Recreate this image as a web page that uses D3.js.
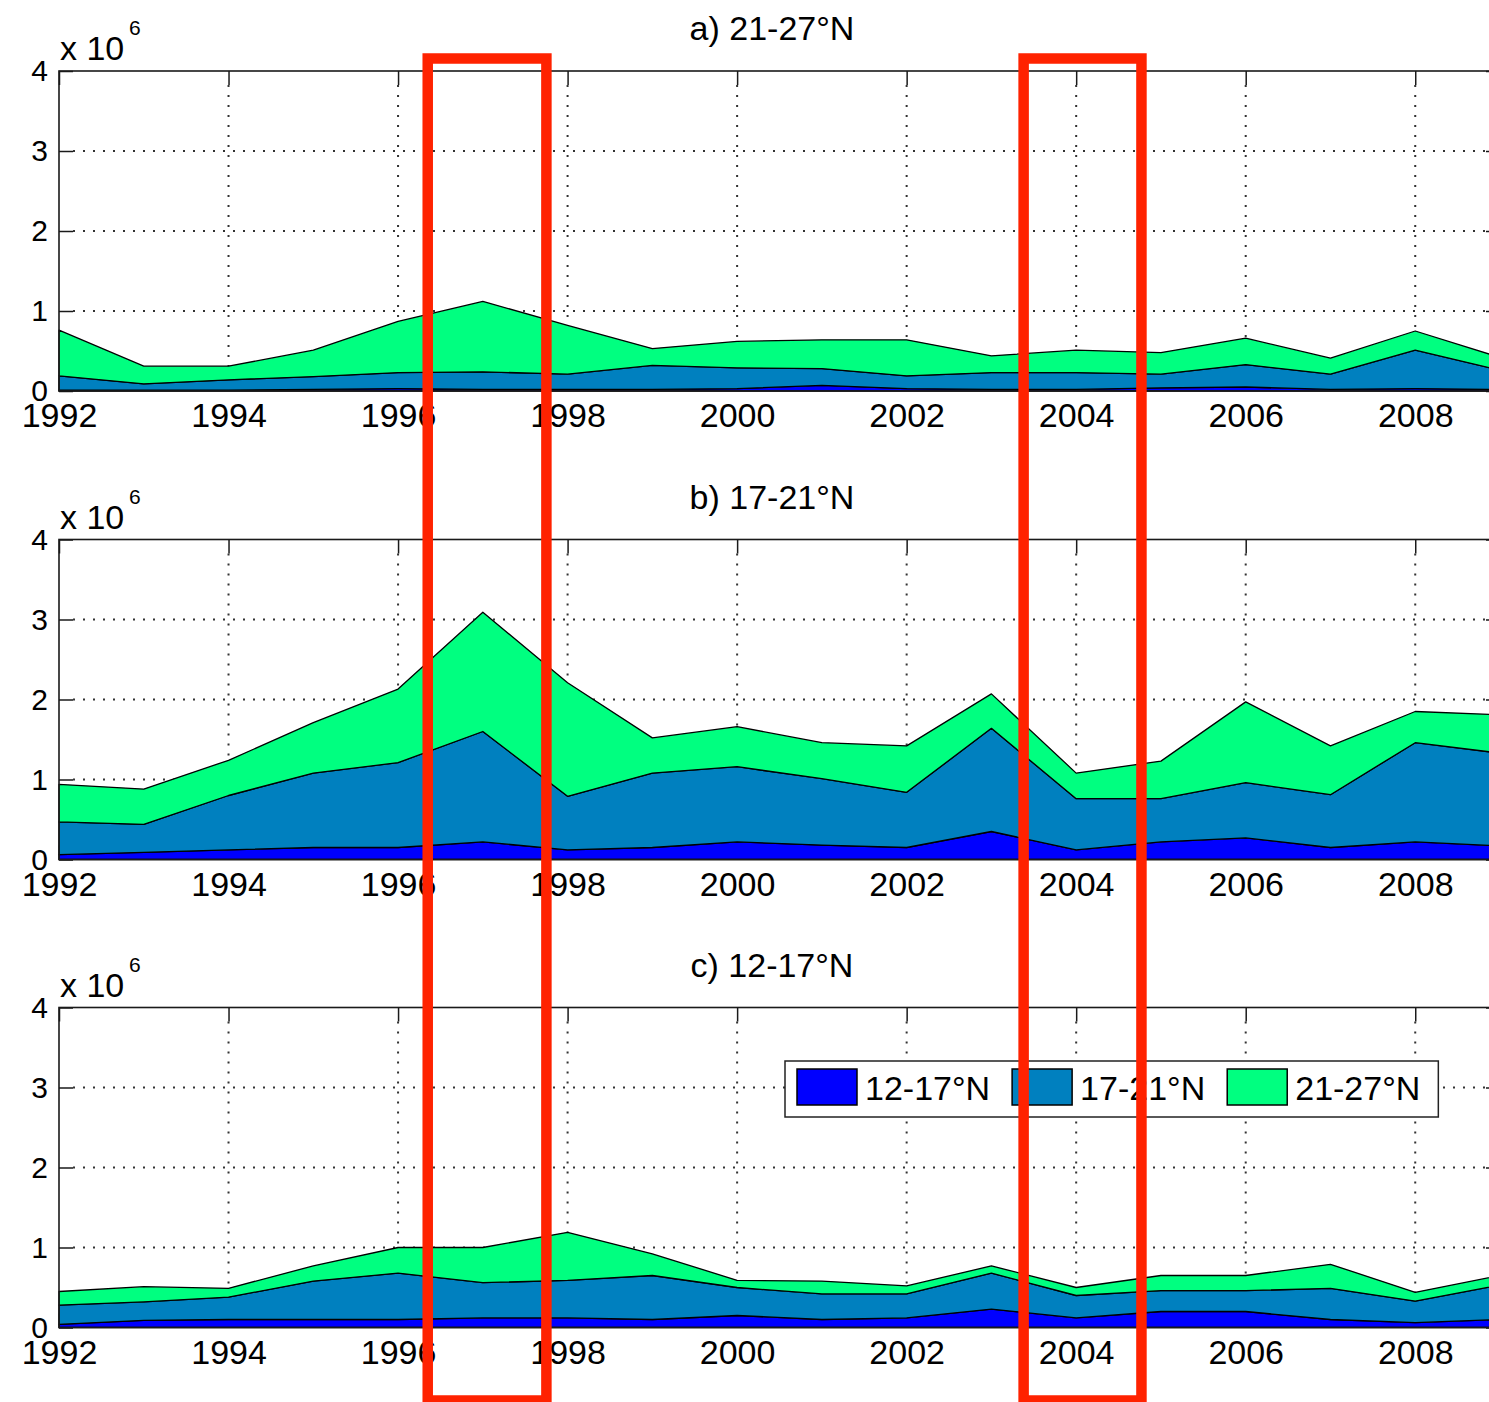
<!DOCTYPE html>
<html><head><meta charset="utf-8">
<script src="https://cdn.jsdelivr.net/npm/d3@7"></script>
<style>
body{margin:0;background:#fff;overflow:hidden}
svg{display:block}
text{font-family:"Liberation Sans",Arial,Helvetica,sans-serif;fill:#000}
</style>
</head><body>
<svg id="chart" width="1489" height="1402"></svg>
<script>
// ---- data (values in units of 10^6) ----
const years = [1992,1993,1994,1995,1996,1997,1998,1999,2000,2001,2002,2003,2004,2005,2006,2007,2008,2009];
const seriesNames = ["12-17°N","17-21°N","21-27°N"];
const seriesColors = ["#0000ff","#0080bf","#00ff80"];
const panelTitles = ["a) 21-27°N","b) 17-21°N","c) 12-17°N"];
const xTicks = [1992,1994,1996,1998,2000,2002,2004,2006,2008];
const yTicks = [0,1,2,3,4];

// panel a) 21-27°N
const a_s1 = [0.01,0.01,0.01,0.02,0.03,0.02,0.02,0.02,0.03,0.07,0.03,0.02,0.02,0.04,0.05,0.02,0.03,0.02];
const a_s2 = [0.18,0.08,0.13,0.16,0.20,0.22,0.19,0.30,0.26,0.21,0.16,0.21,0.21,0.17,0.28,0.19,0.48,0.24];
const a_s3 = [0.57,0.22,0.17,0.33,0.64,0.88,0.61,0.21,0.33,0.36,0.45,0.21,0.28,0.27,0.33,0.20,0.24,0.16];
// panel b) 17-21°N
const b_s1 = [0.06,0.09,0.12,0.15,0.15,0.22,0.12,0.15,0.22,0.18,0.15,0.35,0.12,0.22,0.27,0.15,0.22,0.17];
const b_s2 = [0.41,0.35,0.68,0.93,1.06,1.38,0.67,0.93,0.94,0.83,0.69,1.29,0.64,0.54,0.69,0.66,1.24,1.16];
const b_s3 = [0.47,0.44,0.44,0.63,0.92,1.49,1.42,0.44,0.50,0.45,0.58,0.43,0.32,0.47,1.01,0.61,0.39,0.48];
// panel c) 12-17°N
const c_s1 = [0.04,0.09,0.10,0.10,0.10,0.12,0.12,0.10,0.15,0.10,0.12,0.23,0.12,0.20,0.20,0.10,0.06,0.10];
const c_s2 = [0.24,0.23,0.28,0.48,0.58,0.44,0.47,0.55,0.35,0.32,0.30,0.45,0.28,0.26,0.26,0.39,0.27,0.43];
const c_s3 = [0.17,0.19,0.11,0.19,0.32,0.44,0.60,0.27,0.09,0.16,0.10,0.09,0.10,0.19,0.19,0.30,0.11,0.12];

const panelData = [[a_s1,a_s2,a_s3],[b_s1,b_s2,b_s3],[c_s1,c_s2,c_s3]];

// highlighted year spans (red annotation boxes)
const highlightSpans = [[1996.35, 1997.75], [2003.38, 2004.77]];

// ---- layout ----
const svg = d3.select("#chart");
const left = 59, right = 1500, plotH = 320;
const panelTops = [71, 539.5, 1007.5];
const FONT = 34;
const axisColor = "#1a1a1a";

const x = d3.scaleLinear().domain([1992, 2009]).range([left, right]);

panelData.forEach((series, pi) => {
  const top = panelTops[pi];
  const y = d3.scaleLinear().domain([0, 4]).range([top + plotH, top]);
  const g = svg.append("g");

  const rows = years.map((yr, i) => {
    const r = {year: yr};
    seriesNames.forEach((n, k) => r[n] = series[k][i]);
    return r;
  });
  const stacked = d3.stack().keys(seriesNames)(rows);

  // grid (dotted)
  const grid = g.append("g").attr("stroke", "#333").attr("stroke-width", 2)
    .attr("stroke-dasharray", "2,8").attr("fill", "none");
  xTicks.filter(t => t > 1992).forEach(t => {
    grid.append("line").attr("x1", x(t)).attr("x2", x(t)).attr("y1", top + 14).attr("y2", top + plotH);
  });
  yTicks.filter(t => t > 0 && t < 4).forEach(t => {
    grid.append("line").attr("x1", left + 14).attr("x2", right).attr("y1", y(t)).attr("y2", y(t));
  });

  // axes (ticks inward)
  const axB = g.append("g").attr("transform", `translate(0,${top + plotH})`)
    .call(d3.axisBottom(x).tickValues(xTicks).tickFormat(d3.format("d"))
      .tickSizeInner(-14).tickSizeOuter(0).tickPadding(12));
  const axT = g.append("g").attr("transform", `translate(0,${top})`)
    .call(d3.axisTop(x).tickValues(xTicks).tickFormat("").tickSizeInner(-14).tickSizeOuter(0));
  const axL = g.append("g").attr("transform", `translate(${left},0)`)
    .call(d3.axisLeft(y).tickValues(yTicks).tickFormat(d3.format("d"))
      .tickSizeInner(-14).tickSizeOuter(0).tickPadding(11));
  const axR = g.append("g").attr("transform", `translate(${right},0)`)
    .call(d3.axisRight(y).tickValues(yTicks).tickFormat("").tickSizeInner(-14).tickSizeOuter(0));
  [axB, axT, axL, axR].forEach(a => {
    a.select(".domain").remove();
    a.selectAll("line").attr("stroke", axisColor).attr("stroke-width", 1.5);
    a.selectAll("text").attr("font-size", FONT).attr("fill", "#000")
      .style("font-family", '"Liberation Sans",Arial,sans-serif');
  });
  axL.selectAll("text").attr("font-size", 30);

  // stacked areas
  const area = d3.area().x(d => x(d.data.year)).y0(d => y(d[0])).y1(d => y(d[1]));
  g.append("g").selectAll("path").data(stacked).join("path")
    .attr("d", area)
    .attr("fill", (d, i) => seriesColors[i])
    .attr("stroke", "#000").attr("stroke-width", 1.3).attr("stroke-linejoin", "round");

  // axes box
  g.append("rect").attr("x", left).attr("y", top).attr("width", right - left).attr("height", plotH)
    .attr("fill", "none").attr("stroke", axisColor).attr("stroke-width", 1.6);

  // exponent label
  g.append("text").attr("x", 60).attr("y", top - 11).attr("font-size", FONT).text("x 10");
  g.append("text").attr("x", 129).attr("y", top - 36).attr("font-size", 21).text("6");

  // title
  g.append("text").attr("x", 772).attr("y", top - 31).attr("text-anchor", "middle")
    .attr("font-size", FONT).text(panelTitles[pi]);

  // legend in the last panel
  if (pi === 2) {
    const lg = svg.append("g");
    const box = lg.append("rect").attr("fill", "#fff").attr("stroke", "#222").attr("stroke-width", 1.5);
    let cx = 797;
    const ly = 1069;
    seriesNames.forEach((n, k) => {
      lg.append("rect").attr("x", cx).attr("y", ly).attr("width", 60).attr("height", 36)
        .attr("fill", seriesColors[k]).attr("stroke", "#000").attr("stroke-width", 1.5);
      const t = lg.append("text").attr("x", cx + 68).attr("y", ly + 31).attr("font-size", FONT).text(n);
      const w = t.node().getComputedTextLength();
      cx = cx + 68 + w + (k < 2 ? 22 : 0);
    });
    box.attr("x", 785).attr("y", 1061).attr("width", cx + 18 - 785).attr("height", 56);
  }
});

// red highlight rectangles (annotation overlay)
highlightSpans.forEach(([s, e]) => {
  svg.append("rect")
    .attr("x", x(s)).attr("y", 58.5)
    .attr("width", x(e) - x(s)).attr("height", 1342)
    .attr("fill", "none").attr("stroke", "#ff2200").attr("stroke-width", 10.5);
});
</script>
</body></html>
